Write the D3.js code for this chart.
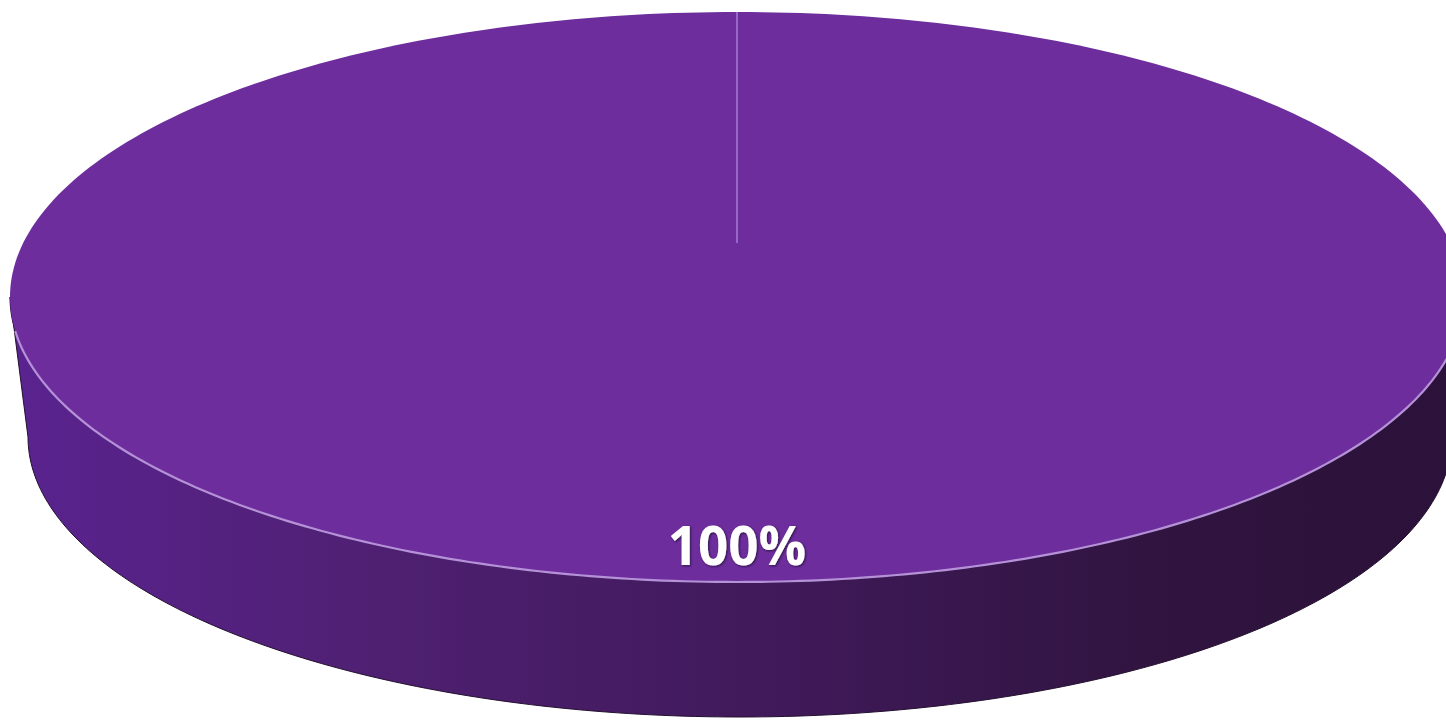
<!DOCTYPE html>
<html>
    <head>
        <meta charset="utf-8">
        <style>
            html, body {
                margin: 0px;
                padding: 0px;
                background-color: #ffffff;
            }

            #main svg {
                display: block;
            }

            .label {
                fill: #ffffff;
                font-family: "Open Sans", sans-serif;
                font-weight: 700;
                font-size: 53px;
            }
        </style>
        <script src="https://cdn.jsdelivr.net/npm/d3@7"></script>
    </head>
    <body>
        <div id="main"></div>

        <script>
            var categories = ["Total"];
            var values = [100];

            var width = 1446;
            var height = 723;

            // top face ellipse, bottom face ellipse (a little smaller: perspective)
            var topFace = { cx: 737, cy: 297, rx: 727, ry: 285 };
            var bottomFace = { cx: 740, cy: 437, rx: 712, ry: 280 };
            var apexY = 243;

            function point(e, a) {
                return [e.cx + e.rx * Math.sin(a), e.cy - e.ry * Math.cos(a)];
            }

            function arcPoints(e, a0, a1, n) {
                var pts = [];
                for (var i = 0; i <= n; i++) {
                    pts.push(point(e, a0 + (a1 - a0) * i / n));
                }
                return pts;
            }

            function main() {
                var svg = d3.select("#main")
                    .append("svg")
                    .attr("width", width)
                    .attr("height", height);

                var defs = svg.append("defs");

                var grad = defs.append("linearGradient")
                    .attr("id", "sideGrad")
                    .attr("x1", "0%").attr("x2", "100%")
                    .attr("y1", "0%").attr("y2", "0%");
                grad.append("stop").attr("offset", "0%").attr("stop-color", "#5a2390");
                grad.append("stop").attr("offset", "25%").attr("stop-color", "#4f2072");
                grad.append("stop").attr("offset", "50%").attr("stop-color", "#411a5c");
                grad.append("stop").attr("offset", "80%").attr("stop-color", "#30143f");
                grad.append("stop").attr("offset", "100%").attr("stop-color", "#2b123a");

                var shadow = defs.append("filter").attr("id", "txtShadow")
                    .attr("x", "-20%").attr("y", "-20%").attr("width", "140%").attr("height", "140%");
                shadow.append("feDropShadow")
                    .attr("dx", 1).attr("dy", 1).attr("stdDeviation", 1.2)
                    .attr("flood-color", "#1a0730").attr("flood-opacity", 0.8);

                var pie = d3.pie().sort(null).value(function(d) { return d; });
                var arcs = pie(values);
                var total = d3.sum(values);
                var color = d3.scaleOrdinal().domain(categories).range(["#6d2d9c"]);

                var line = d3.line();

                // side wall along the front half
                var frontTop = arcPoints(topFace, 3 * Math.PI / 2, Math.PI / 2, 200);
                var frontBottom = arcPoints(bottomFace, Math.PI / 2, 3 * Math.PI / 2, 200);
                svg.append("path")
                    .attr("d", line(frontTop.concat(frontBottom)) + "Z")
                    .attr("fill", "url(#sideGrad)")
                    .attr("stroke", "#24102f")
                    .attr("stroke-width", 1);

                arcs.forEach(function(d, i) {
                    var pts = arcPoints(topFace, d.startAngle, d.endAngle, 360);
                    var path = d.endAngle - d.startAngle >= 2 * Math.PI - 1e-6
                        ? line(pts) + "Z"
                        : line([[topFace.cx, apexY]].concat(pts)) + "Z";
                    svg.append("path")
                        .attr("d", path)
                        .attr("fill", color(categories[i]));

                    // slice boundary
                    var p = point(topFace, d.startAngle);
                    svg.append("line")
                        .attr("x1", topFace.cx).attr("y1", apexY)
                        .attr("x2", p[0]).attr("y2", p[1])
                        .attr("stroke", "#a57bd4")
                        .attr("stroke-width", 1.5);
                });

                // light edge on the front rim
                svg.append("path")
                    .attr("d", line(arcPoints(topFace, 3 * Math.PI / 2 - 0.12, Math.PI / 2 + 0.12, 200)))
                    .attr("fill", "none")
                    .attr("stroke", "#b592d8")
                    .attr("stroke-width", 2.2);

                arcs.forEach(function(d, i) {
                    svg.append("text")
                        .attr("class", "label")
                        .attr("x", topFace.cx)
                        .attr("y", 565)
                        .attr("text-anchor", "middle")
                        .attr("filter", "url(#txtShadow)")
                        .text(d3.format(".0%")(d.value / total));
                });
            }

            main();
        </script>
    </body>
</html>
